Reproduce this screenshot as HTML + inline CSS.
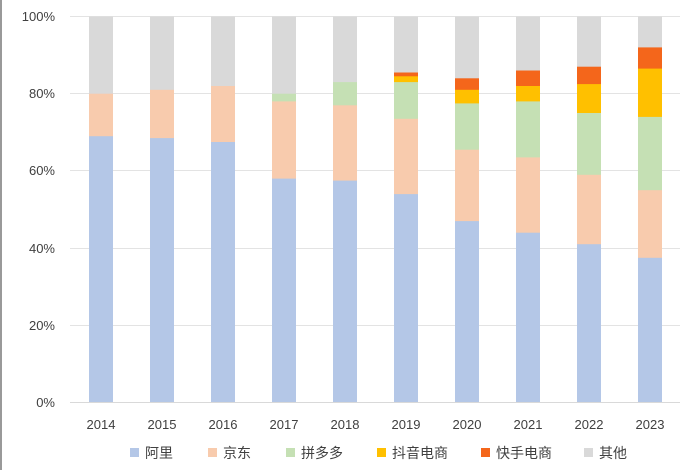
<!DOCTYPE html>
<html><head><meta charset="utf-8"><style>
body{margin:0;background:#fff}
svg{display:block;font-family:"Liberation Sans","Noto Sans CJK SC",sans-serif}
</style></head><body>
<svg width="700" height="470" viewBox="0 0 700 470">
<rect x="0" y="0" width="700" height="470" fill="#fff"/>
<line x1="1" y1="0" x2="1" y2="470" stroke="#999" stroke-width="2"/>
<g stroke="#e3e3e3" stroke-width="1">
<line x1="70" x2="680" y1="16.5" y2="16.5"/>
<line x1="70" x2="680" y1="93.5" y2="93.5"/>
<line x1="70" x2="680" y1="170.5" y2="170.5"/>
<line x1="70" x2="680" y1="248.5" y2="248.5"/>
<line x1="70" x2="680" y1="325.5" y2="325.5"/>
</g>
<!-- gray full bars -->
<g fill="#d9d9d9">
<rect x="89" y="16.5" width="24" height="386"/><rect x="150" y="16.5" width="24" height="386"/>
<rect x="211" y="16.5" width="24" height="386"/><rect x="272" y="16.5" width="24" height="386"/>
<rect x="333" y="16.5" width="24" height="386"/><rect x="394" y="16.5" width="24" height="386"/>
<rect x="455" y="16.5" width="24" height="386"/><rect x="516" y="16.5" width="24" height="386"/>
<rect x="577" y="16.5" width="24" height="386"/><rect x="638" y="16.5" width="24" height="386"/>
</g>
<g fill="#f4661b">
<rect x="394" y="72.5" width="24" height="330"/><rect x="455" y="78.3" width="24" height="324.2"/>
<rect x="516" y="70.5" width="24" height="332"/><rect x="577" y="66.7" width="24" height="335.8"/>
<rect x="638" y="47.4" width="24" height="355.1"/>
</g>
<g fill="#ffc000">
<rect x="394" y="76.3" width="24" height="326.2"/><rect x="455" y="89.8" width="24" height="312.7"/>
<rect x="516" y="86" width="24" height="316.5"/><rect x="577" y="84.1" width="24" height="318.4"/>
<rect x="638" y="68.6" width="24" height="333.9"/>
</g>
<g fill="#c5e0b4">
<rect x="272" y="93.7" width="24" height="308.8"/><rect x="333" y="82.1" width="24" height="320.4"/>
<rect x="394" y="82.1" width="24" height="320.4"/><rect x="455" y="103.4" width="24" height="299.1"/>
<rect x="516" y="101.4" width="24" height="301.1"/><rect x="577" y="113" width="24" height="289.5"/>
<rect x="638" y="116.9" width="24" height="285.6"/>
</g>
<g fill="#f8cbad">
<rect x="89" y="93.7" width="24" height="308.8"/><rect x="150" y="89.8" width="24" height="312.7"/>
<rect x="211" y="86" width="24" height="316.5"/><rect x="272" y="101.4" width="24" height="301.1"/>
<rect x="333" y="105.3" width="24" height="297.2"/><rect x="394" y="118.8" width="24" height="283.7"/>
<rect x="455" y="149.7" width="24" height="252.8"/><rect x="516" y="157.4" width="24" height="245.1"/>
<rect x="577" y="174.8" width="24" height="227.7"/><rect x="638" y="190.2" width="24" height="212.3"/>
</g>
<g fill="#b4c7e7">
<rect x="89" y="136.2" width="24" height="266.3"/><rect x="150" y="138.1" width="24" height="264.4"/>
<rect x="211" y="142" width="24" height="260.5"/><rect x="272" y="178.6" width="24" height="223.9"/>
<rect x="333" y="180.6" width="24" height="221.9"/><rect x="394" y="194.1" width="24" height="208.4"/>
<rect x="455" y="221.1" width="24" height="181.4"/><rect x="516" y="232.7" width="24" height="169.8"/>
<rect x="577" y="244.2" width="24" height="158.3"/><rect x="638" y="257.8" width="24" height="144.7"/>
</g>
<line x1="70" x2="680" y1="402.5" y2="402.5" stroke="#d9d9d9"/>
<g font-size="13" fill="#404040" text-anchor="end">
<text x="55" y="21">100%</text><text x="55" y="98">80%</text><text x="55" y="175">60%</text>
<text x="55" y="253">40%</text><text x="55" y="330">20%</text><text x="55" y="407">0%</text>
</g>
<g font-size="13" fill="#404040" text-anchor="middle">
<text x="101" y="429">2014</text><text x="162" y="429">2015</text><text x="223" y="429">2016</text>
<text x="284" y="429">2017</text><text x="345" y="429">2018</text><text x="406" y="429">2019</text>
<text x="467" y="429">2020</text><text x="528" y="429">2021</text><text x="589" y="429">2022</text>
<text x="650" y="429">2023</text>
</g>
<g font-size="14" fill="#404040">
<rect x="130" y="448" width="9" height="9" fill="#b4c7e7"/><text x="145" y="458">阿里</text>
<rect x="208" y="448" width="9" height="9" fill="#f8cbad"/><text x="223" y="458">京东</text>
<rect x="286" y="448" width="9" height="9" fill="#c5e0b4"/><text x="301" y="458">拼多多</text>
<rect x="377" y="448" width="9" height="9" fill="#ffc000"/><text x="392" y="458">抖音电商</text>
<rect x="481" y="448" width="9" height="9" fill="#f4661b"/><text x="496" y="458">快手电商</text>
<rect x="584" y="448" width="9" height="9" fill="#d9d9d9"/><text x="599" y="458">其他</text>
</g>
</svg>
</body></html>
